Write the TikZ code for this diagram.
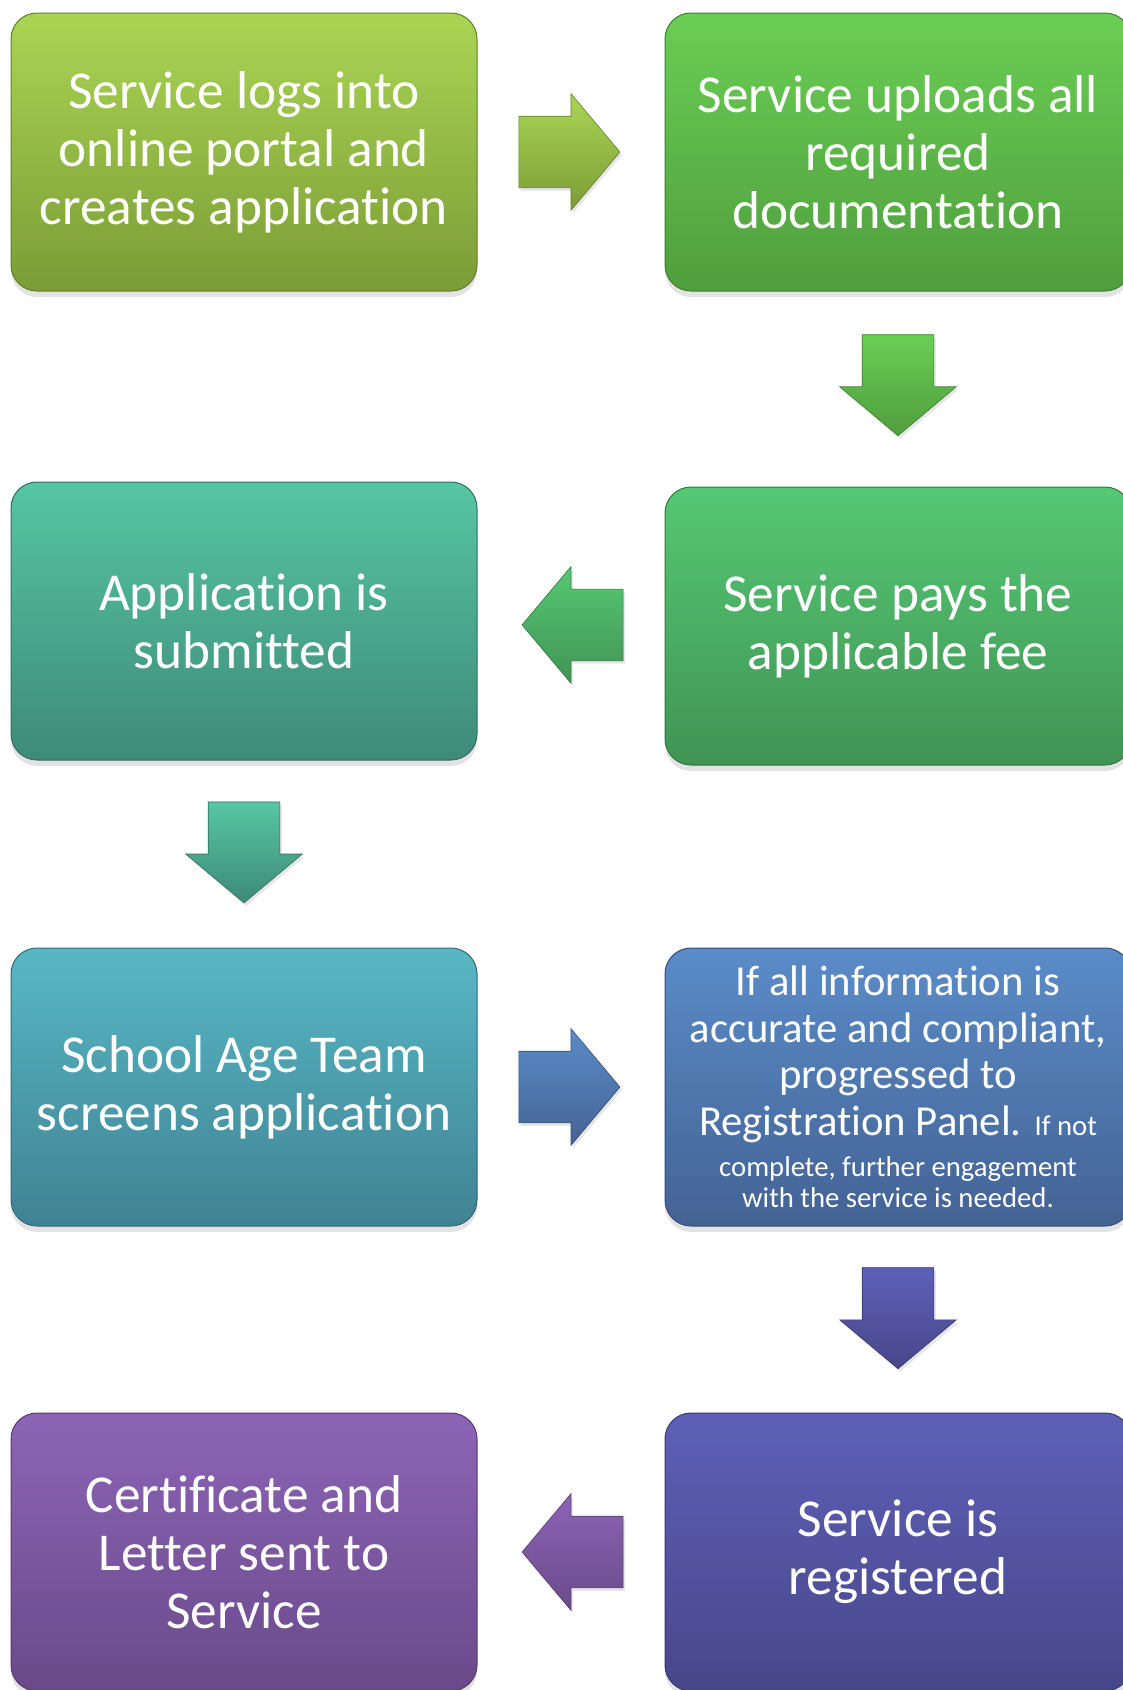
\documentclass[tikz,border=0pt]{standalone}
\usepackage{fontspec}
\setmainfont{Carlito}[Ligatures=NoCommon]
\usetikzlibrary{calc, positioning}
\usetikzlibrary{shapes.arrows}
\usetikzlibrary{shadows}

\definecolor{limeTop}{RGB}{170,213,84}
\definecolor{limeBot}{RGB}{124,156,54}
\definecolor{grassTop}{RGB}{106,206,84}
\definecolor{grassBot}{RGB}{80,158,62}
\definecolor{mintTop}{RGB}{86,200,116}
\definecolor{mintBot}{RGB}{64,148,84}
\definecolor{tealTop}{RGB}{86,198,162}
\definecolor{tealBot}{RGB}{62,138,120}
\definecolor{aquaTop}{RGB}{88,184,196}
\definecolor{aquaBot}{RGB}{64,130,148}
\definecolor{steelTop}{RGB}{90,140,200}
\definecolor{steelBot}{RGB}{68,98,148}
\definecolor{indigoTop}{RGB}{94,96,184}
\definecolor{indigoBot}{RGB}{72,70,138}
\definecolor{plumTop}{RGB}{140,100,182}
\definecolor{plumBot}{RGB}{106,74,138}

\begin{document}
\begin{tikzpicture}[x=1pt,y=-1pt,
  stagebox/.style 2 args={rectangle, rounded corners=26pt,
    minimum width=466pt, minimum height=278pt, inner sep=0pt,
    text width=456pt, align=flush center, text=white,
    font=\fontsize{53.3}{58}\selectfont,
    top color=#1, bottom color=#2, draw=#2!80!black, line width=1pt,
    drop shadow={shadow xshift=0pt, shadow yshift=-6pt, opacity=.22}},
  flowarrow/.style 2 args={single arrow, minimum height=101pt, minimum width=116pt,
    single arrow head extend=22.5pt, single arrow tip angle=100,
    inner xsep=0pt, inner ysep=35.5pt, anchor=tail,
    top color=#1, bottom color=#2, draw=#2!80!black, line width=.6pt,
    drop shadow={shadow xshift=2pt, shadow yshift=-3pt, opacity=.2}}]
\def\colL{244}
\def\colR{898}
\def\rowA{152}
\def\rowB{621}
\def\rowC{1087}
\def\rowD{1552}
\def\gap{.22}
\useasboundingbox (0,0) rectangle (1123,1690);

\node[stagebox={limeTop}{limeBot}] (login) at (\colL,\rowA)
  {Service logs into\\online portal and\\creates application};
\node[stagebox={grassTop}{grassBot}] (upload) at (\colR,\rowA)
  {Service uploads all\\required\\documentation};
\node[stagebox={mintTop}{mintBot}] (fee) at (\colR,\rowB+5)
  {Service pays the\\applicable fee};
\node[stagebox={tealTop}{tealBot}] (submit) at (\colL,\rowB)
  {Application is\\submitted};
\node[stagebox={aquaTop}{aquaBot}] (screen) at (\colL,\rowC)
  {School Age Team\\screens application};
\node[stagebox={steelTop}{steelBot}, font=\fontsize{42.7}{46.7}\selectfont] (panel) at (\colR,\rowC)
  {If all information is\\accurate and compliant,\\progressed to\\
   Registration Panel. {\fontsize{28.7}{31}\selectfont If not}\\[-6pt]
   {\fontsize{28.7}{31}\selectfont complete, further engagement}\\[-15pt]
   {\fontsize{28.7}{31}\selectfont with the service is needed.}};
\node[stagebox={indigoTop}{indigoBot}] (registered) at (\colR,\rowD)
  {Service is\\registered};
\node[stagebox={plumTop}{plumBot}] (certificate) at (\colL,\rowD)
  {Certificate and\\Letter sent to\\Service};

\node[flowarrow={limeTop}{limeBot}] (loginToUpload) at ($(login.east)!\gap!(upload.west)$) {};
\node[flowarrow={grassTop}{grassBot}, rotate=-90] (uploadToFee) at ($(upload.south)!\gap!(fee.north)$) {};
\node[flowarrow={mintTop}{mintBot}, shape border rotate=180] (feeToSubmit) at ($(fee.west)!\gap!(submit.east)$) {};
\node[flowarrow={tealTop}{tealBot}, rotate=-90] (submitToScreen) at ($(submit.south)!\gap!(screen.north)$) {};
\node[flowarrow={steelTop}{steelBot}] (screenToPanel) at ($(screen.east)!\gap!(panel.west)$) {};
\node[flowarrow={indigoTop}{indigoBot}, rotate=-90] (panelToRegistered) at ($(panel.south)!\gap!(registered.north)$) {};
\node[flowarrow={plumTop}{plumBot}, shape border rotate=180] (registeredToCertificate) at ($(registered.west)!\gap!(certificate.east)$) {};
\end{tikzpicture}
\end{document}
